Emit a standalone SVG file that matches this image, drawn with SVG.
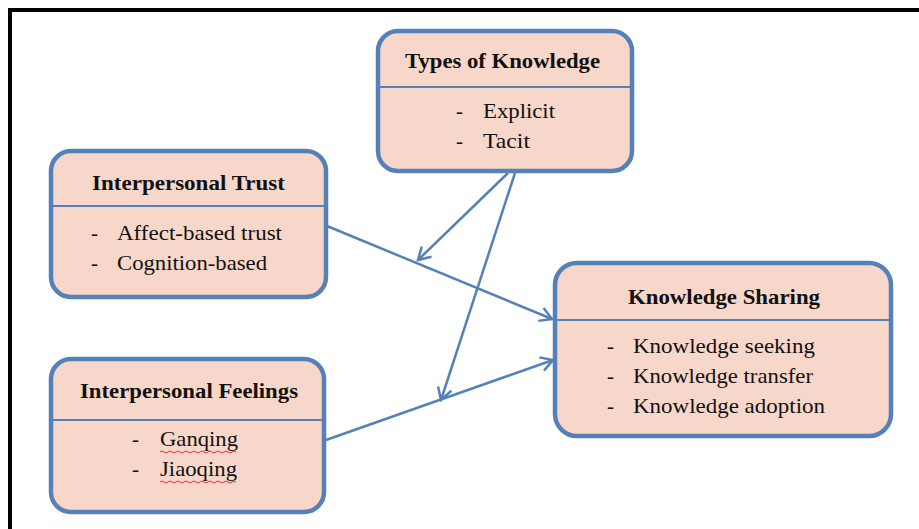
<svg xmlns="http://www.w3.org/2000/svg" width="919" height="529" viewBox="0 0 919 529">
<style>
.box{fill:#f8d7cb;stroke:#5580b8;stroke-width:4.5}
.div{stroke:#5580b8;stroke-width:2}
.t{font-family:"Liberation Serif","Times New Roman",serif;font-weight:bold;font-size:21px;fill:#111}
.b{font-family:"Liberation Serif","Times New Roman",serif;font-size:21px;fill:#111}
.c{fill:none;stroke:#5580b8;stroke-width:2.5}
.w{fill:none;stroke:#e03030;stroke-width:1}
</style>
<defs>
<marker id="ah" markerUnits="userSpaceOnUse" markerWidth="20" markerHeight="20" refX="14" refY="8" orient="auto" viewBox="0 0 20 16">
<path d="M2,1 L14,8 L2,15" fill="none" stroke="#5580b8" stroke-width="2.5"/>
</marker>
</defs>
<rect width="919" height="529" fill="#fff"/>
<path d="M10,529 V10 H919" fill="none" stroke="#000" stroke-width="4"/>
<g id="connectors">
<line class="c" x1="327" y1="226" x2="552" y2="319" marker-end="url(#ah)"/>
<line class="c" x1="326" y1="440" x2="553" y2="360" marker-end="url(#ah)"/>
<line class="c" x1="508" y1="173" x2="418" y2="260" marker-end="url(#ah)"/>
<line class="c" x1="515" y1="173" x2="441" y2="400" marker-end="url(#ah)"/>
</g>
<g id="types-of-knowledge">
<rect class="box" x="378" y="31" width="254" height="140" rx="20"/>
<line class="div" x1="378" y1="87" x2="632" y2="87"/>
<text class="t" x="405" y="68" textLength="195" lengthAdjust="spacingAndGlyphs">Types of Knowledge</text>
<text class="b" x="456" y="118">-</text>
<text class="b" x="483" y="118" textLength="72" lengthAdjust="spacingAndGlyphs">Explicit</text>
<text class="b" x="456" y="148">-</text>
<text class="b" x="483" y="148" textLength="47" lengthAdjust="spacingAndGlyphs">Tacit</text>
</g>
<g id="interpersonal-trust">
<rect class="box" x="51" y="151" width="275" height="146" rx="20"/>
<line class="div" x1="51" y1="206" x2="326" y2="206"/>
<text class="t" x="92" y="190" textLength="193" lengthAdjust="spacingAndGlyphs">Interpersonal Trust</text>
<text class="b" x="91" y="240">-</text>
<text class="b" x="117" y="240" textLength="165" lengthAdjust="spacingAndGlyphs">Affect-based trust</text>
<text class="b" x="91" y="270">-</text>
<text class="b" x="117" y="270" textLength="150" lengthAdjust="spacingAndGlyphs">Cognition-based</text>
</g>
<g id="interpersonal-feelings">
<rect class="box" x="51" y="359" width="273" height="153" rx="20"/>
<line class="div" x1="51" y1="420" x2="324" y2="420"/>
<text class="t" x="80" y="398" textLength="218" lengthAdjust="spacingAndGlyphs">Interpersonal Feelings</text>
<text class="b" x="132" y="446">-</text>
<text class="b" x="160" y="446" textLength="78" lengthAdjust="spacingAndGlyphs">Ganqing</text>
<path class="w" d="M160,452 q2,-2 4,0 t4,0 t4,0 t4,0 t4,0 t4,0 t4,0 t4,0 t4,0 t4,0 t4,0 t4,0 t4,0 t4,0 t4,0 t4,0 t4,0 t4,0 t4,0"/>
<text class="b" x="132" y="476">-</text>
<text class="b" x="160" y="476" textLength="77" lengthAdjust="spacingAndGlyphs">Jiaoqing</text>
<path class="w" d="M160,482 q2,-2 4,0 t4,0 t4,0 t4,0 t4,0 t4,0 t4,0 t4,0 t4,0 t4,0 t4,0 t4,0 t4,0 t4,0 t4,0 t4,0 t4,0 t4,0 t4,0"/>
</g>
<g id="knowledge-sharing">
<rect class="box" x="555" y="263" width="336" height="173" rx="22"/>
<line class="div" x1="555" y1="320" x2="891" y2="320"/>
<text class="t" x="628" y="304" textLength="192" lengthAdjust="spacingAndGlyphs">Knowledge Sharing</text>
<text class="b" x="607" y="353">-</text>
<text class="b" x="633" y="353" textLength="182" lengthAdjust="spacingAndGlyphs">Knowledge seeking</text>
<text class="b" x="607" y="383">-</text>
<text class="b" x="633" y="383" textLength="180" lengthAdjust="spacingAndGlyphs">Knowledge transfer</text>
<text class="b" x="607" y="413">-</text>
<text class="b" x="633" y="413" textLength="192" lengthAdjust="spacingAndGlyphs">Knowledge adoption</text>
</g>
</svg>
